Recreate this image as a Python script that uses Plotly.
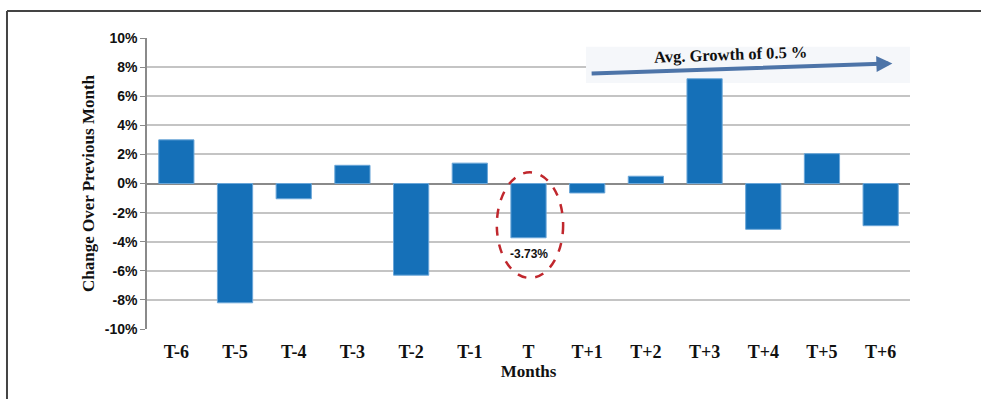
import plotly.graph_objects as go

months = ["T-6", "T-5", "T-4", "T-3", "T-2", "T-1", "T", "T+1", "T+2", "T+3", "T+4", "T+5", "T+6"]
change_pct = [3.0, -8.2, -1.05, 1.25, -6.3, 1.4, -3.73, -0.65, 0.5, 7.2, -3.15, 2.05, -2.9]
y_ticks = [-10, -8, -6, -4, -2, 0, 2, 4, 6, 8, 10]
y_tick_text = [f"{v}%" for v in y_ticks]
highlight_month = "T"
trend_label = "Avg. Growth of 0.5 %"

serif = "Liberation Serif, Times New Roman, serif"
sans = "Liberation Sans, Arial, sans-serif"

fig = go.Figure()
fig.add_trace(go.Bar(
    x=months, y=change_pct,
    marker=dict(color="#1570b8", line=dict(color="#6aa6d8", width=1)),
    width=0.6,
    hoverinfo="x+y",
))

hi = months.index(highlight_month)
hv = change_pct[hi]

shapes = [
    # outer frame (top and left edges)
    dict(type="line", xref="paper", yref="paper", x0=-0.1835, x1=1.1, y0=1.0928, y1=1.0928,
         line=dict(color="#444444", width=2)),
    dict(type="line", xref="paper", yref="paper", x0=-0.1835, x1=-0.1835, y0=1.0928, y1=-0.3,
         line=dict(color="#444444", width=2)),
    # pale backdrop behind the trend arrow, covering the gridline
    dict(type="rect", xref="x", yref="y", x0=6.98, x1=12.5, y0=6.9, y1=9.4,
         fillcolor="#f5f7fa", line=dict(width=0), layer="between"),
    # dashed ellipse around the highlighted month
    dict(type="circle", xref="x", yref="y", x0=hi - 0.54, x1=hi + 0.59, y0=0.77, y1=-6.49,
         line=dict(color="#c0272d", width=2.5, dash="dash")),
]

annotations = [
    dict(x=hi, y=-4.84, xref="x", yref="y", text=f"<b>{hv:.2f}%</b>", showarrow=False,
         font=dict(family=sans, size=12, color="#111111")),
    # trend arrow
    dict(x=12.2, y=8.25, ax=7.05, ay=7.55, xref="x", yref="y", axref="x", ayref="y",
         text="", showarrow=True, arrowhead=2, arrowsize=0.8, arrowwidth=4,
         arrowcolor="#4d74a8"),
    dict(x=9.45, y=8.85, xref="x", yref="y", text=f"<b>{trend_label}</b>", showarrow=False,
         textangle=-2, font=dict(family=serif, size=16.5, color="#111111")),
]

fig.update_layout(
    width=981, height=399,
    margin=dict(l=147, r=71, t=38, b=70),
    plot_bgcolor="white", paper_bgcolor="white",
    showlegend=False,
    bargap=0.4,
    shapes=shapes,
    annotations=annotations,
    xaxis=dict(
        tickfont=dict(family=serif, size=18, color="#111111"),
        showgrid=False, showline=False, ticks="",
        ticklabelstandoff=10,
        title=dict(text="<b>Months</b>", font=dict(family=serif, size=17, color="#111111"), standoff=2),
        tickprefix="<b>", ticksuffix="</b>",
    ),
    yaxis=dict(
        range=[-10, 10],
        tickvals=y_ticks, ticktext=[f"<b>{t}</b>" for t in y_tick_text],
        tickfont=dict(family=sans, size=14, color="#111111"),
        showgrid=True, gridcolor="#c4c4c4", gridwidth=1.5,
        zeroline=True, zerolinecolor="#8a8a8a", zerolinewidth=1.5,
        showline=True, linecolor="#8a8a8a", linewidth=1.5,
        ticks="outside", ticklen=5, tickcolor="#8a8a8a",
        title=dict(text="<b>Change Over Previous Month</b>",
                   font=dict(family=serif, size=17, color="#111111"), standoff=6),
    ),
)

fig.write_html("out.html")
